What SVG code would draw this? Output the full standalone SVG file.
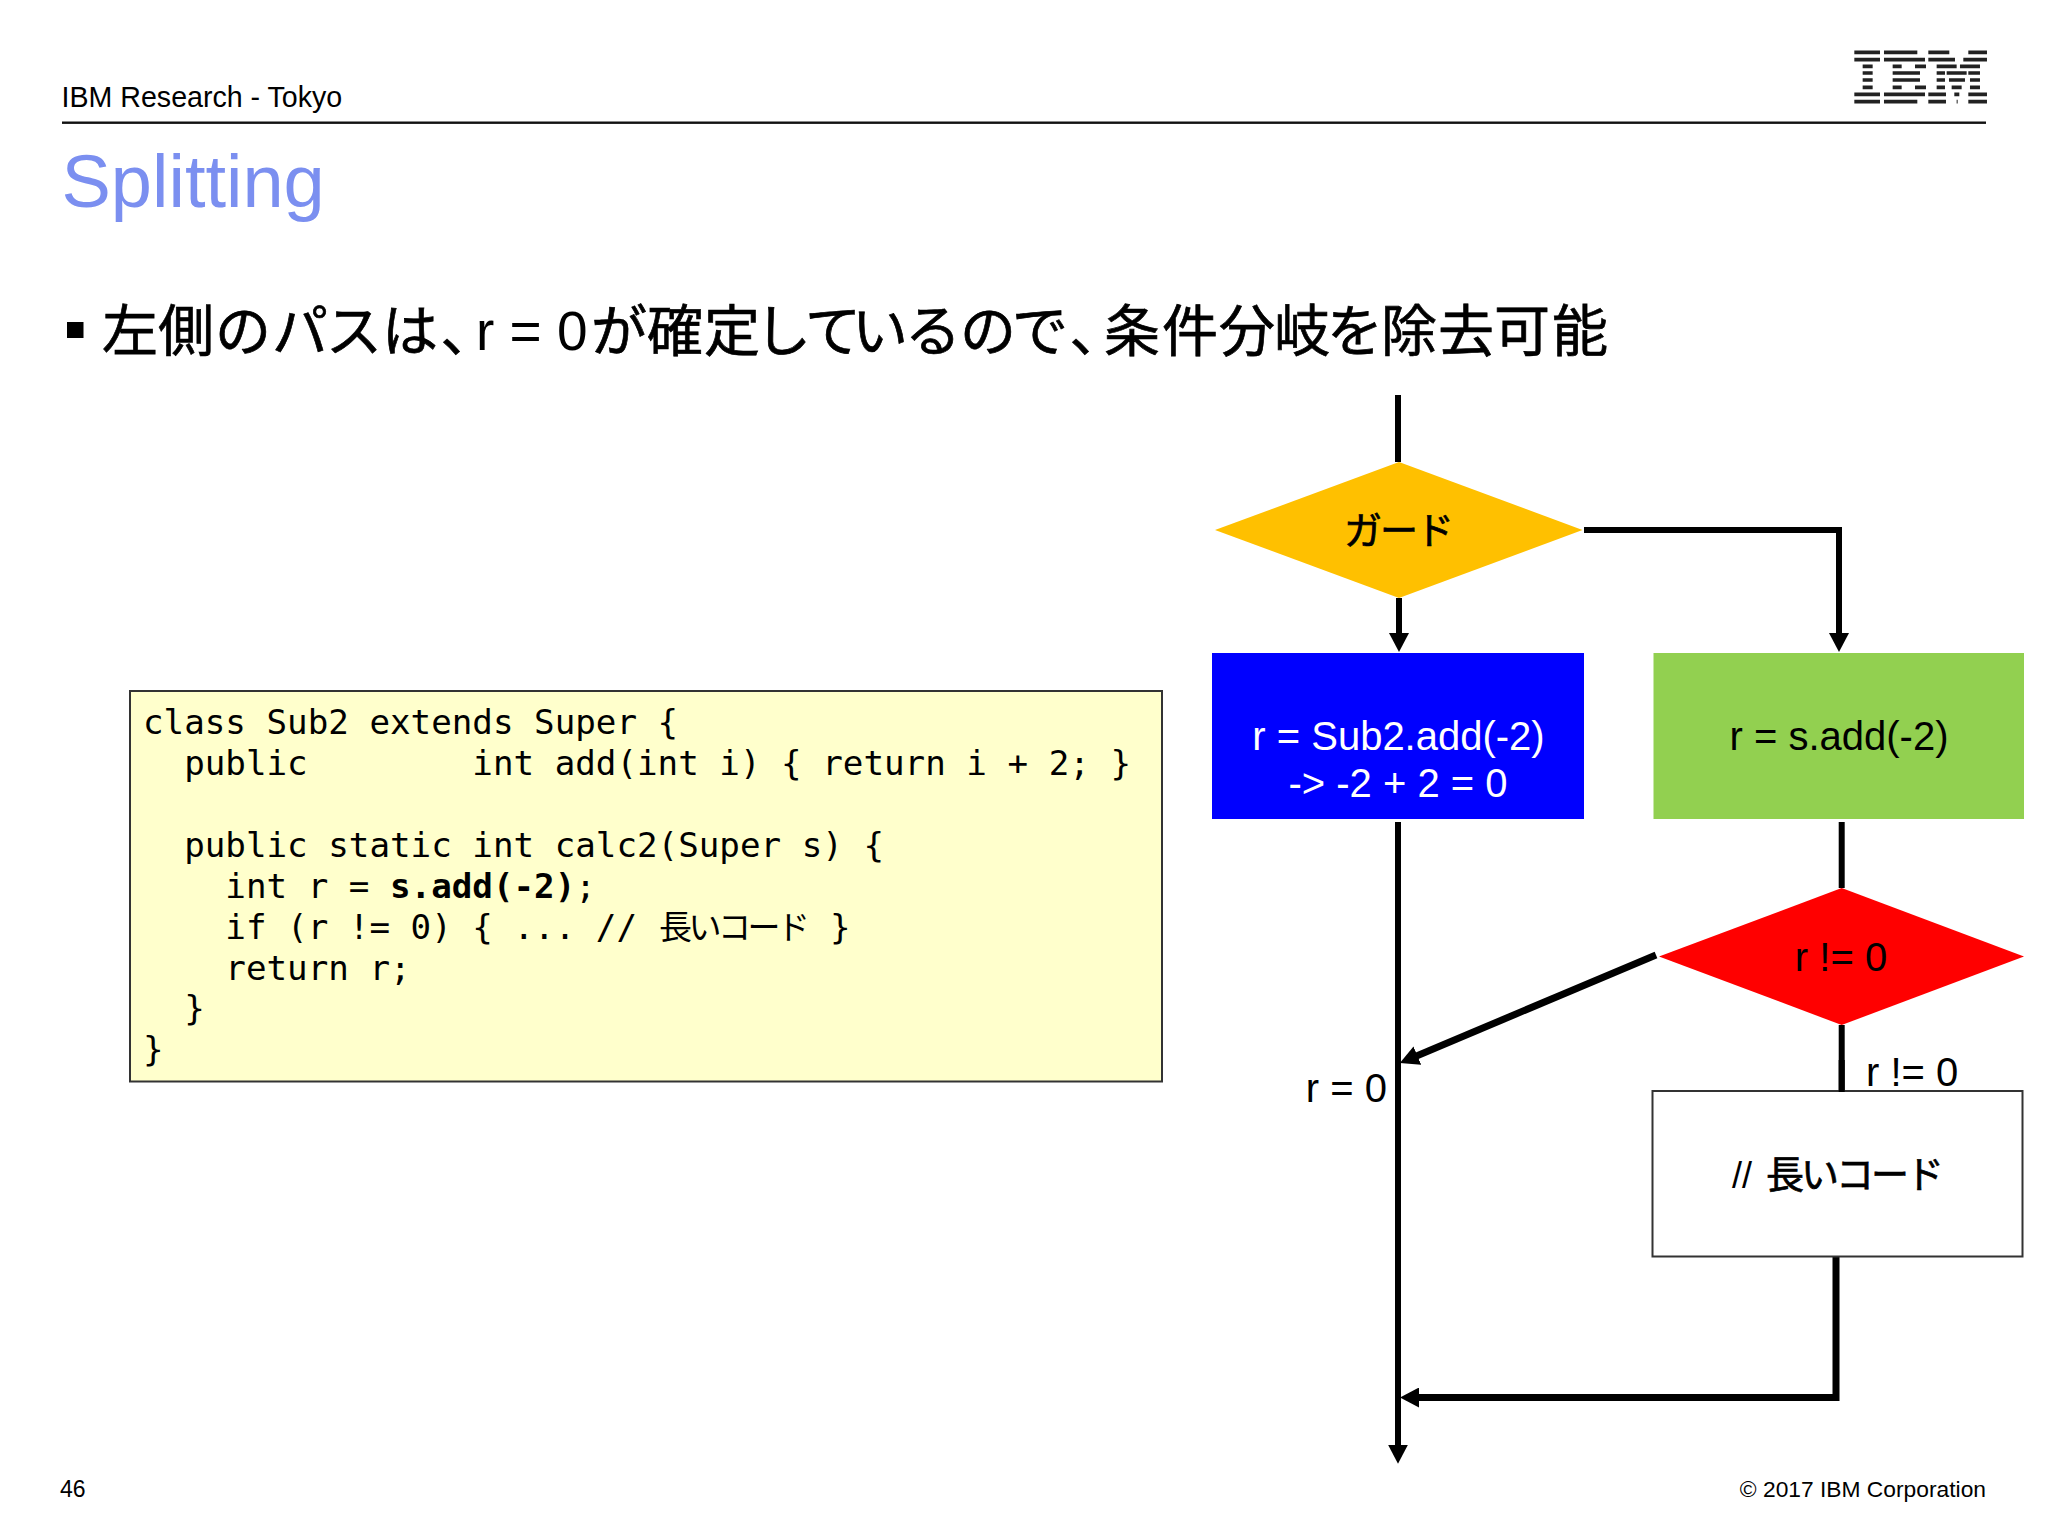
<svg xmlns="http://www.w3.org/2000/svg" width="2048" height="1536" viewBox="0 0 2048 1536">
<style>
text{font-family:"Liberation Sans","Noto Sans CJK JP",sans-serif;fill:#000}
.n{font-size:40px}
.m{text-anchor:middle}
.w{fill:#fff}
.code{font-family:"DejaVu Sans Mono","Noto Sans CJK JP",monospace;font-size:34.2px;white-space:pre}
.cjk{font-family:"Noto Sans CJK JP",sans-serif}
.hv{font-family:"Noto Sans CJK JP",sans-serif;stroke:#000;stroke-width:.7px}
.p{font-feature-settings:"palt"}
.c{fill:none;stroke:#000;stroke-width:6}
.a{marker-end:url(#arrow)}
</style>
<defs>
<marker id="arrow" markerUnits="userSpaceOnUse" viewBox="0 0 19 20" markerWidth="19" markerHeight="20" refX="8" refY="10" orient="auto"><path d="M0 0L19 10L0 20Z" fill="#000"/></marker>
</defs>
<rect width="2048" height="1536" fill="#fff"/>
<g id="header">
<text x="61.500" y="106.500" font-size="28.600">IBM Research - Tokyo</text>
<rect x="62" y="121.500" width="1924" height="2.400" fill="#111"/>
<text x="61.500" y="207" font-size="74" style="fill:#7B8FF0">Splitting</text>
</g>
<g id="logo" transform="translate(1800 30) scale(.3333)">
<path fill="none" stroke="#222" stroke-width="11" d="M163 67H240M252 67H352M385 67H448M505 67H561M163 89H240M252 89H375M385 89H465M490 89H561M188 109H218M278 109H305M345 109H378M410 109H470M480 109H540M188 129H218M278 129H360M410 129H435M440 129H500M505 129H540M188 150H218M278 150H360M410 150H435M447 150H495M510 150H540M188 172H218M278 172H305M345 172H378M410 172H435M455 172H485M510 172H540M163 193H240M252 193H375M385 193H438M463 193H478M505 193H561M163 215H240M252 215H352M385 215H438M470 215H473M505 215H561"/>
</g>
<g id="heading">
<rect x="67" y="322" width="16.500" height="16" fill="#000"/>
<text y="351" font-size="56"><tspan class="hv" x="102 158 215 272 326 382">左側のパスは</tspan><tspan class="hv p" x="441">、</tspan><tspan x="476" y="350" font-size="55">r = 0</tspan><tspan class="hv" x="591 647 704 755 805 852 905 960 1012" y="351">が確定しているので</tspan><tspan class="hv p" x="1070">、</tspan><tspan class="hv" x="1104 1162 1219 1274 1327 1381 1438 1494 1552">条件分岐を除去可能</tspan></text>
</g>
<g id="code">
<rect x="130" y="691" width="1032" height="390.500" fill="#FFFFCC" stroke="#333" stroke-width="2"/>
<text class="code" x="143" y="734">class Sub2 extends Super {</text>
<text class="code" x="143" y="775">  public        int add(int i) { return i + 2; }</text>
<text class="code" x="143" y="857">  public static int calc2(Super s) {</text>
<text class="code" x="143" y="898">    int r = <tspan font-weight="bold">s.add(-2)</tspan>;</text>
<text class="code" x="143" y="939">    if (r != 0) { ... // <tspan class="cjk" x="659" font-size="33" letter-spacing="-3.500">長いコード</tspan><tspan x="830">}</tspan></text>
<text class="code" x="143" y="980">    return r;</text>
<text class="code" x="143" y="1020">  }</text>
<text class="code" x="143" y="1061">}</text>
</g>
<g id="connectors">
<path class="c" d="M1398 395V462"/>
<path class="c a" d="M1399 598V641"/>
<path class="c a" d="M1584 530H1839V641"/>
<path class="c" d="M1841.700 822V888"/>
<path class="c a" style="stroke-width:7" d="M1656 955L1410 1058.700"/>
<path class="c" d="M1841.700 1025V1092"/>
<path class="c a" style="stroke-width:7" d="M1836 1257V1397.500H1411"/>
<path class="c a" d="M1398 822V1452.700"/>
</g>
<g id="guard">
<polygon points="1215,530 1399,462 1582.500,530 1399,598" fill="#FFC000"/>
<text class="m hv" x="1398" y="544" font-size="38" letter-spacing="-2">ガード</text>
</g>
<g id="blue">
<rect x="1212" y="653" width="372" height="166" fill="#0000FF"/>
<text class="n m w" x="1398.500" y="750">r = Sub2.add(-2)</text>
<text class="n m w" x="1398" y="797">-&gt; -2 + 2 = 0</text>
</g>
<g id="green">
<rect x="1653.500" y="653" width="370.500" height="166" fill="#92D050"/>
<text class="n m" x="1839" y="750">r = s.add(-2)</text>
</g>
<g id="red">
<polygon points="1659,956.500 1841.700,888 2024,956.500 1841.700,1025" fill="#FF0000"/>
<text class="n m" x="1841" y="971">r != 0</text>
</g>
<g id="long">
<rect x="1652.500" y="1091" width="370" height="165.500" fill="#fff" stroke="#333" stroke-width="2"/>
<text y="1188" font-size="36"><tspan x="1732">//</tspan><tspan class="hv" x="1766" font-size="38" letter-spacing="-3">長いコード</tspan></text>
</g>
<g id="labels">
<path class="c" d="M1841.700 1060V1092"/>
<text class="n" x="1866" y="1086">r != 0</text>
<text class="n" x="1387" y="1102" text-anchor="end" font-size="39.500">r = 0</text>
</g>
<g id="footer">
<text x="60" y="1497" font-size="23">46</text>
<text x="1986" y="1497" font-size="22.800" text-anchor="end">© 2017 IBM Corporation</text>
</g>
</svg>
